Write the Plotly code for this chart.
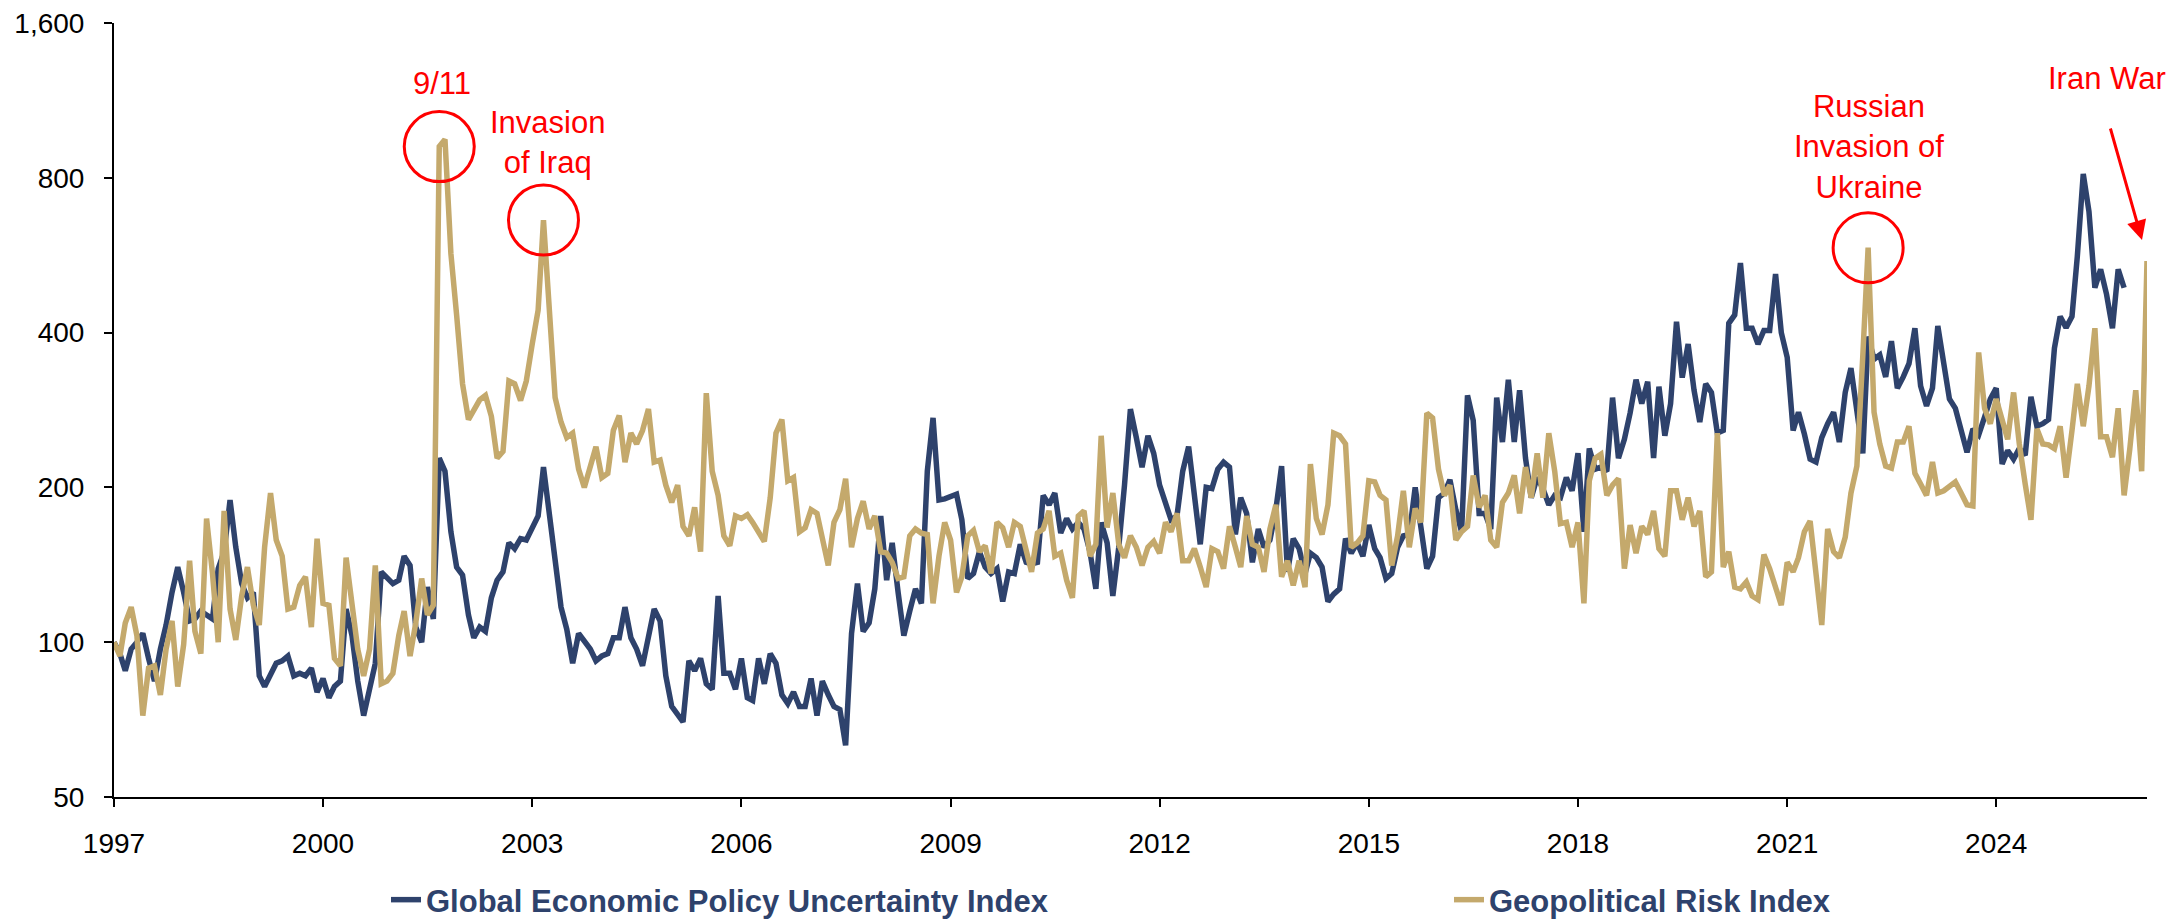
import math
import pandas as pd
import plotly.graph_objects as go

# ---------------- data (monthly) ----------------
start_month = "1997-01-01"

epu_values = [
    100, 95, 88, 97, 100, 104, 93, 84, 97, 108, 125, 140,
    125, 110, 111, 115, 113, 111, 139, 150, 189, 153, 130, 122,
    125, 86, 82, 87, 91, 92, 94, 86, 87, 86, 89, 80,
    85, 78, 82, 84, 116, 103, 84, 72, 82, 91, 137, 133,
    130, 132, 147, 141, 107, 100, 128, 111, 228, 215, 164, 140,
    135, 113, 102, 107, 105, 122, 132, 137, 156, 152, 159, 158,
    166, 176, 219, 176, 140, 117, 106, 91, 104, 100, 97, 92,
    94, 95, 102, 102, 117, 102, 97, 90, 103, 116, 110, 86,
    75, 72, 70, 92, 88, 93, 83, 81, 123, 87, 87, 81,
    93, 78, 77, 93, 83, 95, 91, 79, 76, 80, 75, 75,
    85, 72, 84, 79, 75, 74, 63, 104, 130, 105, 109, 127,
    176, 132, 156, 125, 103, 115, 127, 119, 215, 273, 189, 190,
    192, 194, 173, 133, 136, 150, 140, 136, 139, 120, 137, 136,
    155, 143, 142, 143, 193, 185, 195, 163, 174, 166, 171, 166,
    150, 127, 171, 156, 123, 153, 202, 284, 250, 219, 252, 233,
    202, 185, 173, 176, 215, 240, 195, 155, 200, 199, 217, 224,
    219, 162, 191, 178, 143, 166, 153, 158, 181, 220, 137, 159,
    152, 136, 149, 146, 140, 120, 124, 127, 159, 149, 156, 147,
    169, 152, 146, 133, 136, 153, 161, 162, 200, 169, 139, 147,
    191, 195, 207, 181, 164, 302, 270, 178, 178, 166, 299, 245,
    324, 245, 309, 228, 191, 209, 199, 185, 193, 191, 209, 197,
    233, 164, 238, 217, 219, 215, 299, 228, 248, 279, 324, 291,
    321, 228, 314, 252, 291, 420, 327, 380, 309, 268, 318, 306,
    255, 258, 417, 433, 546, 408, 408, 380, 404, 404, 520, 400,
    358, 258, 280, 254, 227, 224, 250, 266, 280, 245, 306, 341,
    280, 233, 393, 355, 362, 328, 385, 312, 328, 348, 408, 315,
    288, 312, 412, 355, 297, 285, 260, 234, 260, 253, 274, 297,
    312, 222, 236, 227, 238, 231, 300, 263, 266, 271, 373, 430,
    409, 430, 563, 814, 688, 489, 531, 475, 408, 531, 489,
]

gpr_values = [
    100, 94, 109, 117, 103, 72, 89, 90, 79, 97, 110, 82,
    99, 144, 105, 95, 174, 136, 100, 180, 116, 101, 123, 140,
    118, 108, 153, 195, 158, 147, 116, 117, 129, 134, 107, 159,
    119, 118, 93, 90, 146, 120, 97, 86, 97, 141, 83, 84,
    87, 103, 115, 94, 109, 133, 113, 118, 920, 950, 570, 433,
    318, 271, 283, 296, 302, 275, 228, 235, 322, 318, 295, 322,
    380, 442, 662, 451, 299, 268, 250, 255, 217, 200, 219, 240,
    209, 213, 258, 276, 224, 255, 243, 258, 284, 224, 226, 202,
    187, 202, 168, 161, 183, 150, 305, 215, 193, 161, 154, 176,
    174, 177, 171, 164, 157, 191, 255, 271, 206, 209, 164, 167,
    181, 178, 161, 141, 171, 181, 208, 153, 174, 188, 166, 176,
    150, 149, 143, 133, 134, 161, 166, 163, 162, 119, 147, 171,
    158, 125, 134, 161, 165, 150, 154, 136, 171, 167, 153, 171,
    168, 150, 137, 163, 166, 180, 147, 149, 132, 122, 176, 180,
    147, 155, 252, 167, 195, 155, 146, 161, 153, 141, 153, 157,
    149, 171, 164, 178, 144, 144, 152, 140, 128, 152, 150, 139,
    168, 153, 140, 176, 155, 153, 137, 166, 185, 134, 144, 129,
    144, 128, 222, 174, 162, 185, 255, 252, 243, 153, 156, 161,
    206, 205, 193, 189, 141, 161, 197, 153, 182, 171, 279, 273,
    217, 193, 202, 158, 164, 168, 211, 183, 193, 158, 153, 187,
    195, 211, 178, 219, 191, 233, 191, 255, 215, 170, 171, 153,
    171, 119, 206, 228, 232, 193, 202, 208, 139, 169, 149, 168,
    162, 180, 152, 147, 197, 197, 173, 191, 168, 180, 134, 137,
    255, 140, 150, 128, 127, 131, 123, 121, 148, 139, 127, 118,
    143, 137, 146, 164, 172, 133, 108, 166, 150, 146, 160, 195,
    220, 360, 585, 280, 243, 220, 218, 245, 245, 263, 213, 203,
    193, 224, 195, 197, 201, 205, 195, 185, 184, 366, 285, 266,
    297, 271, 248, 306, 243, 203, 173, 260, 243, 242, 238, 263,
    209, 258, 318, 263, 315, 408, 251, 251, 229, 285, 193, 238,
    309, 215, 551,
]

series_names = ["Global Economic Policy Uncertainty Index", "Geopolitical Risk Index"]
year_ticks = ["1997", "2000", "2003", "2006", "2009", "2012", "2015", "2018", "2021", "2024"]
y_ticks = [50, 100, 200, 400, 800, 1600]
y_tick_labels = ["50", "100", "200", "400", "800", "1,600"]

# circled GPR events (month index into the series)
event_idx = [56, 74, 302]
event_labels = ["9/11", "Invasion<br>of Iraq", "Russian<br>Invasion of<br>Ukraine"]
arrow_label = "Iran War"

# ---------------- styling ----------------
NAVY = "#2E426C"
TAN = "#C4A96C"
RED = "#FF0000"
FONT = "Liberation Sans, Arial, sans-serif"

FIG_W, FIG_H = 2176, 920

# plot area in pixels
L, R, T, B = 114, 2147, 23, 797
W_PLOT, H_PLOT = R - L, B - T


def px(x):
    return (x - L) / W_PLOT


def py(y):
    return 1 - (y - T) / H_PLOT


months = pd.date_range(start_month, periods=len(gpr_values), freq="MS")
epu_months = months[: len(epu_values)]

fig = go.Figure()
fig.add_trace(go.Scatter(
    x=epu_months, y=epu_values, mode="lines", name=series_names[0],
    line=dict(color=NAVY, width=5.5), legend="legend",
))
fig.add_trace(go.Scatter(
    x=months, y=gpr_values, mode="lines", name=series_names[1],
    line=dict(color=TAN, width=5.5), legend="legend2",
))
fig.add_trace(go.Scatter(
    x=[months[i] for i in event_idx], y=[gpr_values[i] for i in event_idx],
    mode="markers", showlegend=False, hoverinfo="skip", cliponaxis=False,
    marker=dict(symbol="circle-open", size=70, color=RED, line=dict(width=3, color=RED)),
))

label_pos = [(442, 84), (547, 142), (1869, 147)]
annotations = []
for txt, (ax_, ay_) in zip(event_labels, label_pos):
    annotations.append(dict(
        text=txt, x=px(ax_), y=py(ay_), xref="paper", yref="paper",
        showarrow=False, xanchor="center", yanchor="middle",
        font=dict(family=FONT, size=31, color=RED),
    ))
annotations.append(dict(
    text=arrow_label, x=px(2107), y=py(79), xref="paper", yref="paper",
    showarrow=False, xanchor="center", yanchor="middle",
    font=dict(family=FONT, size=31, color=RED),
))
annotations.append(dict(
    text="", x=px(2142), y=py(240), xref="paper", yref="paper",
    showarrow=True, ax=-32, ay=-113, arrowcolor=RED, arrowwidth=3,
    arrowhead=2, arrowsize=1.3,
))

axis_common = dict(
    showline=True, linecolor="black", linewidth=2, mirror=False,
    ticks="outside", ticklen=8, tickwidth=2, tickcolor="black",
    showgrid=False, zeroline=False, automargin=False,
    ticklabeloverflow="allow",
    tickfont=dict(family=FONT, size=28, color="black"),
)

legend_common = dict(
    orientation="h", yanchor="middle", xanchor="left",
    font=dict(family=FONT, size=31, color=NAVY, weight="bold"),
    bgcolor="rgba(0,0,0,0)", borderwidth=0,
)

fig.update_layout(
    width=FIG_W, height=FIG_H,
    margin=dict(l=L, r=FIG_W - R, t=T, b=FIG_H - B, autoexpand=False),
    plot_bgcolor="white", paper_bgcolor="white",
    font=dict(family=FONT),
    xaxis=dict(
        type="date", range=[months[0], months[-1]],
        tickvals=[pd.Timestamp(f"{y}-01-01") for y in year_ticks], ticktext=year_ticks,
        ticklabelstandoff=12, **axis_common,
    ),
    yaxis=dict(
        type="log", range=[math.log10(y_ticks[0]), math.log10(y_ticks[-1])],
        tickvals=y_ticks, ticktext=y_tick_labels,
        ticklabelstandoff=14, **axis_common,
    ),
    showlegend=True,
    legend=dict(x=px(386), y=py(900), **legend_common),
    legend2=dict(x=px(1449), y=py(900), **legend_common),
    annotations=annotations,
)

# remove the browser's default 8px body margin so the figure fills the window
fig.write_html(
    "out.html",
    config={"displayModeBar": False},
    post_script="document.body.style.margin='0';document.body.style.overflow='hidden';",
)
